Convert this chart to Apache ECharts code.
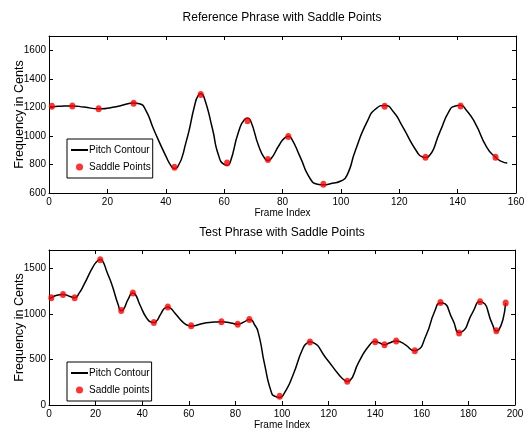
<!DOCTYPE html>
<html>
<head>
<meta charset="utf-8">
<script src="https://cdn.jsdelivr.net/npm/echarts@6/dist/echarts.min.js"></script>
<style>
  html, body { margin: 0; padding: 0; background: #fff; }
  #chart { width: 527px; height: 432px; }
</style>
</head>
<body>
<div id="chart"></div>
<script>
// reference phrase: contour knots [frame, cents]
const refContour = [
  [0, 1200], [1, 1204], [4, 1208], [8, 1210], [12, 1202], [17, 1190], [23, 1205],
  [27, 1225], [29, 1231], [31, 1225], [33, 1186], [36, 1040], [40, 860], [42, 785],
  [43, 772], [44, 780], [47, 960], [50, 1222], [51, 1278], [52, 1295], [53, 1278],
  [56, 1050], [58, 870], [60, 800], [61, 795], [62, 810], [65, 1032], [67, 1115],
  [68, 1123], [69, 1110], [72, 920], [74, 840], [75, 828], [76, 838], [79, 940],
  [81, 990], [82, 997], [83, 985], [86, 855], [89.5, 700], [92, 662], [94, 658],
  [97, 668], [100, 684], [102, 720], [105, 900], [109, 1100], [112, 1190], [115, 1213],
  [118, 1170], [121, 1070], [126, 891], [128, 852], [129, 849], [130, 855], [134, 1032],
  [137, 1170], [139, 1208], [141, 1214], [143, 1180], [146, 1090], [150, 920],
  [153, 850], [155, 822], [157, 810]
];
const refSaddle = [
  [1, 1207], [8, 1210], [17, 1191], [29, 1229], [43, 780], [52, 1290], [61, 810],
  [68, 1106], [75, 834], [82, 995], [94, 661], [115, 1207], [129, 851], [141, 1210],
  [153, 851]
];
// test phrase
const testContour = [
  [0, 1165], [1, 1176], [3, 1200], [6, 1213], [9, 1190], [11, 1176], [13, 1230],
  [15, 1320], [19, 1520], [21, 1585], [22, 1595], [23, 1580], [25, 1450], [27, 1320],
  [29.7, 1100], [31, 1035], [32, 1050], [34, 1160], [36, 1228], [37, 1215], [39, 1100],
  [42, 950], [44, 908], [45, 904], [46, 915], [48, 1000], [50, 1068], [51, 1074],
  [52, 1065], [54, 1010], [57, 920], [59, 880], [61, 865], [64, 880], [67, 900],
  [71, 910], [74, 912], [78, 900], [81, 886], [84, 915], [86, 938], [87, 930],
  [88, 890], [89.7, 805], [92.6, 438], [95.4, 143], [97, 95], [99, 82], [101, 130],
  [104.7, 327], [109, 622], [111, 685], [112, 695], [113, 690], [119, 511],
  [124.6, 327], [127, 268], [128, 258], [129, 265], [133, 474], [137.6, 658],
  [140, 697], [142, 680], [144, 662], [146, 680], [149, 702], [151, 690], [153, 660],
  [157, 596], [158, 600], [161.9, 768], [165.5, 1025], [168, 1120], [169, 1118],
  [173.3, 934], [176, 795], [177, 800], [182, 1025], [185, 1132], [186, 1128],
  [190.4, 879], [192, 812], [193, 820], [196, 1118]
];
const testSaddle = [
  [1, 1176], [6, 1213], [11, 1176], [22, 1592], [31, 1037], [36, 1228], [45, 904],
  [51, 1074], [61, 868], [74, 912], [81, 886], [86, 938], [99, 96], [112, 691],
  [128, 261], [140, 695], [144, 662], [149, 702], [157, 596], [168, 1125],
  [176, 790], [185, 1132], [192, 813], [196, 1118]
];

const FONT = '"Liberation Sans", Arial, sans-serif';

let chart = echarts.init(document.getElementById('chart'));

function xAx(grid, max, pos) {
  let main = pos === 'bottom';
  return {
    type: 'value', gridIndex: grid, position: pos, min: 0, max: max, interval: 20,
    name: main ? 'Frame Index' : '', nameLocation: 'middle', nameGap: 15, nameMoveOverlap: false,
    nameTextStyle: { fontFamily: FONT, fontSize: 10, color: '#000' },
    axisLine: { show: true, onZero: false, lineStyle: { color: '#000', width: 1 } },
    axisTick: { show: true, inside: true, length: 4, lineStyle: { color: '#000' } },
    axisLabel: { show: main, margin: 4, fontFamily: FONT, fontSize: 10, color: '#000',
      formatter: v => String(v) },
    splitLine: { show: false }
  };
}
function yAx(grid, min, max, step, pos) {
  let main = pos === 'left';
  return {
    type: 'value', gridIndex: grid, position: pos, min: min, max: max, interval: step,
    name: main ? 'Frequency in Cents' : '', nameLocation: 'middle', nameGap: 23, nameMoveOverlap: false,
    nameTextStyle: { fontFamily: FONT, fontSize: 12.5, color: '#000' },
    axisLine: { show: true, onZero: false, lineStyle: { color: '#000', width: 1 } },
    axisTick: { show: true, inside: true, length: 4, lineStyle: { color: '#000' } },
    axisLabel: { show: main, margin: 3, showMaxLabel: false, fontFamily: FONT, fontSize: 10,
      color: '#000', formatter: v => String(v) },
    splitLine: { show: false }
  };
}
function legendAt(top, names) {
  return {
    orient: 'vertical', left: 67, top: top,
    data: [{ name: names[0], itemStyle: { opacity: 0 } }, names[1]],
    itemWidth: 17, itemHeight: 7, itemGap: 7,
    padding: [6, 2, 6, 3], borderColor: '#000', borderWidth: 1, backgroundColor: '#fff',
    textStyle: { fontFamily: FONT, fontSize: 10, color: '#000', padding: [0, 0, 0, -4] },
    lineStyle: { width: 2 },
    selectedMode: false
  };
}

let option = {
  animation: false,
  title: [
    { text: 'Reference Phrase with Saddle Points', left: 282, top: 12, textAlign: 'center', padding: 0,
      textStyle: { fontFamily: FONT, fontSize: 12, fontWeight: 'normal', color: '#000' } },
    { text: 'Test Phrase with Saddle Points', left: 282, top: 227, textAlign: 'center', padding: 0,
      textStyle: { fontFamily: FONT, fontSize: 12, fontWeight: 'normal', color: '#000' } }
  ],
  grid: [
    { left: 49, right: 11, top: 36, height: 157, outerBoundsMode: 'none' },
    { left: 49, right: 12, top: 250, height: 155, outerBoundsMode: 'none' }
  ],
  xAxis: [xAx(0, 160, 'bottom'), xAx(0, 160, 'top'), xAx(1, 200, 'bottom'), xAx(1, 200, 'top')],
  yAxis: [yAx(0, 600, 1700, 200, 'left'), yAx(0, 600, 1700, 200, 'right'),
          yAx(1, 0, 1700, 500, 'left'), yAx(1, 0, 1700, 500, 'right')],
  legend: [
    legendAt(139, ['Pitch Contour', 'Saddle Points']),
    legendAt(362, ['Pitch Contour', 'Saddle points'])
  ],
  series: [
    { name: 'Pitch Contour', type: 'line', xAxisIndex: 0, yAxisIndex: 0, data: refContour,
      smooth: 0.6, symbol: 'none', itemStyle: { color: '#000' },
      lineStyle: { color: '#000', width: 1.5 }, z: 2 },
    { name: 'Saddle Points', type: 'scatter', xAxisIndex: 0, yAxisIndex: 0, data: refSaddle,
      symbol: 'circle', symbolSize: [6, 7], itemStyle: { color: '#ff0000' }, z: 3 },
    { name: 'Pitch Contour', type: 'line', xAxisIndex: 2, yAxisIndex: 2, data: testContour,
      smooth: 0.6, symbol: 'none', itemStyle: { color: '#000' },
      lineStyle: { color: '#000', width: 1.5 }, z: 2 },
    { name: 'Saddle points', type: 'scatter', xAxisIndex: 2, yAxisIndex: 2, data: testSaddle,
      symbol: 'circle', symbolSize: [6, 7], itemStyle: { color: '#ff0000' }, z: 3 }
  ]
};

chart.setOption(option);
</script>
</body>
</html>
